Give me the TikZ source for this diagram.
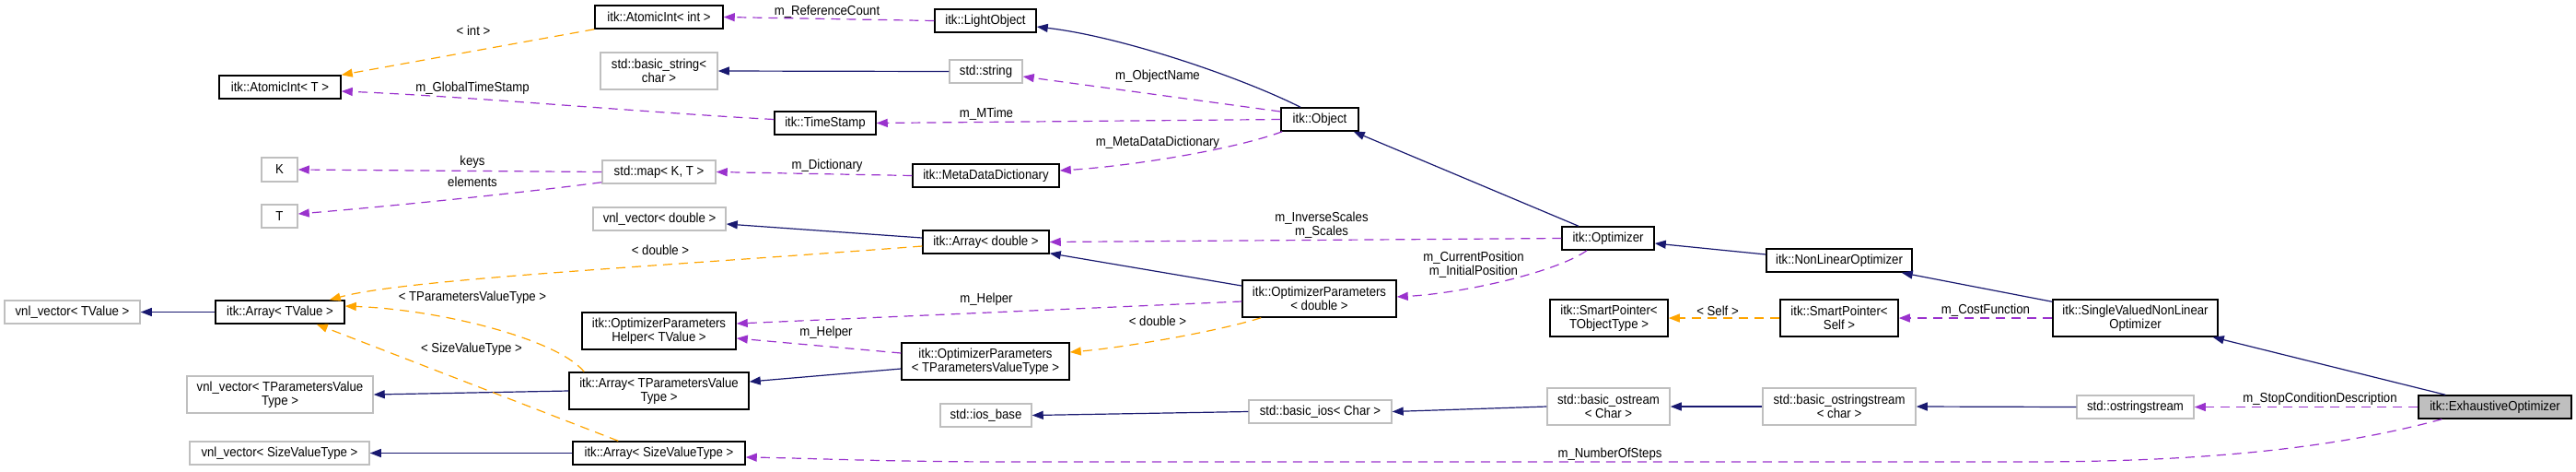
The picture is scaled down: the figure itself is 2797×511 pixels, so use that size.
\documentclass[tikz,border=0pt]{standalone}
\usepackage{fontspec}
\setmainfont{Liberation Sans}[FakeStretch=0.91]
\usetikzlibrary{arrows.meta,calc}
\definecolor{cInh}{HTML}{191970}
\definecolor{cUse}{HTML}{9A32CD}
\definecolor{cTpl}{HTML}{FFA500}
\definecolor{cGry}{HTML}{BFBFBF}
\begin{document}
\begin{tikzpicture}[x=0.5pt,y=-0.5pt,
 font=\fontsize{7.25pt}{7.5pt}\selectfont,
 box/.style={draw=black,line width=0.75pt,inner sep=0pt,align=center,fill=white},
 gbox/.style={box,draw=cGry},
 one/.style={minimum height=12.5pt},
 two/.style={minimum height=20pt},
 lbl/.style={inner sep=0pt,align=center},
 tipA/.style={-{Triangle[length=6pt,width=4.5pt]}},
 inhE/.style={draw=cInh,line width=0.6pt,tipA},
 useE/.style={draw=cUse,line width=0.6pt,dash pattern=on 5pt off 3.5pt,tipA},
 tplE/.style={draw=cTpl,line width=0.6pt,dash pattern=on 5pt off 3.5pt,tipA}]
\useasboundingbox (0,0) rectangle (2797,511);
% nodes
\node[gbox,one,minimum width=73.5pt] (vT) at (78.5,338.5) {vnl\_vector< TValue >};
\node[box,one,minimum width=66pt] (aiT) at (304,94.5) {itk::AtomicInt< T >};
\node[gbox,minimum width=19.5pt,minimum height=13pt] (K) at (303.5,184) {K};
\node[gbox,one,minimum width=19.5pt] (T) at (303.5,234.5) {T};
\node[box,one,minimum width=70pt] (arT) at (304,338.5) {itk::Array< TValue >};
\node[gbox,two,minimum width=101pt] (vTP) at (304,428) {vnl\_vector< TParametersValue\\Type >};
\node[gbox,one,minimum width=97.5pt] (vSV) at (303.5,491.5) {vnl\_vector< SizeValueType >};
\node[box,one,minimum width=69.5pt] (aiI) at (715.5,18.5) {itk::AtomicInt< int >};
\node[gbox,two,minimum width=63.5pt] (bstr) at (715.5,77) {std::basic\_string<\\char >};
\node[gbox,one,minimum width=61.5pt] (map) at (715.5,186.5) {std::map< K, T >};
\node[gbox,one,minimum width=72pt] (vD) at (716,237.5) {vnl\_vector< double >};
\node[box,two,minimum width=83.5pt] (help) at (715.5,359) {itk::OptimizerParameters\\Helper< TValue >};
\node[box,two,minimum width=97.5pt] (arTP) at (715.5,424) {itk::Array< TParametersValue\\Type >};
\node[box,one,minimum width=93.5pt] (arSV) at (715.5,491.5) {itk::Array< SizeValueType >};
\node[box,one,minimum width=55pt] (lo) at (1070,22.5) {itk::LightObject};
\node[gbox,one,minimum width=39.5pt] (str) at (1070.5,77.5) {std::string};
\node[box,one,minimum width=55pt] (ts) at (896,133.5) {itk::TimeStamp};
\node[box,one,minimum width=79.5pt] (mdd) at (1070.5,190.5) {itk::MetaDataDictionary};
\node[box,one,minimum width=68.5pt] (arD) at (1070.5,262.5) {itk::Array< double >};
\node[box,two,minimum width=91pt] (opTP) at (1070,392) {itk::OptimizerParameters\\< TParametersValueType >};
\node[gbox,one,minimum width=49.5pt] (iosb) at (1070.5,450.5) {std::ios\_base};
\node[box,one,minimum width=42pt] (obj) at (1433,129.5) {itk::Object};
\node[box,two,minimum width=83.5pt] (opD) at (1432.5,324) {itk::OptimizerParameters\\< double >};
\node[gbox,one,minimum width=77.5pt] (bios) at (1433.5,446.5) {std::basic\_ios< Char >};
\node[box,one,minimum width=50pt] (opt) at (1746,258.5) {itk::Optimizer};
\node[box,two,minimum width=64pt] (spT) at (1747,345) {itk::SmartPointer<\\TObjectType >};
\node[gbox,two,minimum width=66.5pt] (bos) at (1746.5,441) {std::basic\_ostream\\< Char >};
\node[box,one,minimum width=79pt] (nlo) at (1997,282.5) {itk::NonLinearOptimizer};
\node[box,two,minimum width=64pt] (spS) at (1997,345) {itk::SmartPointer<\\Self >};
\node[gbox,two,minimum width=83pt] (boss) at (1997,441) {std::basic\_ostringstream\\< char >};
\node[box,two,minimum width=89.5pt] (svo) at (2318.5,345) {itk::SingleValuedNonLinear\\Optimizer};
\node[gbox,one,minimum width=63.5pt] (oss) at (2318.5,441.5) {std::ostringstream};
\node[box,one,minimum width=83pt,fill=cGry] (exo) at (2709,441.5) {itk::ExhaustiveOptimizer};
% inheritance
\draw[inhE] ($(obj.north)+(-21,0)$) .. controls (1350,85) and (1220,40) .. ($(lo.east)+(0,6.5)$);
\draw[inhE] (str.west) -- (bstr.east);
\draw[inhE] ($(opt.north)+(-32,0)$) -- ($(obj.south east)+(-6,0)$);
\draw[inhE] ($(arD.west)+(0,-4.5)$) -- ($(vD.east)+(0,5.5)$);
\draw[inhE] ($(opD.west)+(0,-14)$) -- ($(arD.south east)+(0,-1)$);
\draw[inhE] ($(opTP.west)+(0,8)$) -- ($(arTP.east)+(0,-10)$);
\draw[inhE] ($(nlo.west)+(0,-6.5)$) -- ($(opt.east)+(0,5.5)$);
\draw[inhE] ($(svo.north west)+(0,3)$) -- ($(nlo.south east)+(-12,0)$);
\draw[inhE] ($(exo.north west)+(30,0)$) -- ($(svo.south east)+(-6,0)$);
\draw[inhE] (arT.west) -- (vT.east);
\draw[inhE] (arTP.west) -- (vTP.east);
\draw[inhE] (arSV.west) -- (vSV.east);
\draw[inhE] (bios.west) -- (iosb.east);
\draw[inhE] (bos.west) -- (bios.east);
\draw[inhE] (boss.west) -- (bos.east);
\draw[inhE] (oss.west) -- (boss.east);
% usage
\draw[useE] (lo.west) -- (aiI.east);
\draw[useE] ($(ts.west)+(0,-4)$) .. controls (700,122) and (500,104) .. ($(aiT.east)+(0,4.5)$);
\draw[useE] ($(obj.west)+(0,-8.5)$) -- ($(str.east)+(0,5.5)$);
\draw[useE] (obj.west) -- (ts.east);
\draw[useE] ($(obj.south west)+(2,0)$) .. controls (1340,162) and (1230,180) .. ($(mdd.east)+(0,-5.5)$);
\draw[useE] (mdd.west) -- (map.east);
\draw[useE] (map.west) -- (K.east);
\draw[useE] ($(map.south west)+(0,-2)$) .. controls (560,210) and (420,224) .. ($(T.east)+(0,-2.5)$);
\draw[useE] (opt.west) -- (arD.east);
\draw[useE] ($(opt.south)+(-23,0)$) .. controls (1690,295) and (1590,318) .. ($(opD.east)+(0,-2)$);
\draw[useE] ($(opD.west)+(0,3)$) -- ($(help.east)+(0,-8)$);
\draw[useE] ($(opTP.west)+(0,-9)$) -- ($(help.east)+(0,8)$);
\draw[useE] (svo.west) -- (spS.east);
\draw[useE] (exo.west) -- (oss.east);
\draw[useE] ($(exo.south west)+(26,0)$) .. controls (2540,485) and (2400,501) .. (2200,501) -- (1100,501) .. controls (960,501) and (880,497) .. ($(arSV.east)+(0,4.5)$);
% template instances
\draw[tplE] (aiI.south west) -- (aiT.north east);
\draw[tplE] ($(arD.west)+(0,4.5)$) .. controls (700,290) and (440,303) .. ($(arT.north east)+(-17,0)$);
\draw[tplE] ($(arTP.north west)+(17,0)$) .. controls (605,368) and (480,336) .. ($(arT.east)+(0,-6.5)$);
\draw[tplE] ($(arSV.north west)+(50,0)$) -- ($(arT.south east)+(-31,0)$);
\draw[tplE] ($(opD.south west)+(21,0)$) .. controls (1320,360) and (1220,377) .. ($(opTP.east)+(0,-10)$);
\draw[tplE] (spS.west) -- (spT.east);
% labels
\node[lbl] (l1) at (514,33) {< int >};
\node[lbl] (l2) at (513,96) {m\_GlobalTimeStamp};
\node[lbl] (l3) at (513,176) {keys};
\node[lbl] (l4) at (513,197) {elements};
\node[lbl] (l5) at (513,323) {< TParametersValueType >};
\node[lbl] (l6) at (512,379) {< SizeValueType >};
\node[lbl] (l7) at (717,271) {< double >};
\node[lbl] (l8) at (898,13) {m\_ReferenceCount};
\node[lbl] (l9) at (898,180) {m\_Dictionary};
\node[lbl] (l10) at (1071,325) {m\_Helper};
\node[lbl] (l11) at (897,361) {m\_Helper};
\node[lbl] (l12) at (1071,124) {m\_MTime};
\node[lbl] (l13) at (1257,83) {m\_ObjectName};
\node[lbl] (l14) at (1257,155) {m\_MetaDataDictionary};
\node[lbl] (l15) at (1435,244) {m\_InverseScales\\m\_Scales};
\node[lbl] (l16) at (1600,287) {m\_CurrentPosition\\m\_InitialPosition};
\node[lbl] (l17) at (1257,348) {< double >};
\node[lbl] (l18) at (1865,337) {< Self >};
\node[lbl] (l19) at (2156,337) {m\_CostFunction};
\node[lbl] (l20) at (1748,493) {m\_NumberOfSteps};
\node[lbl] (l21) at (2519,433) {m\_StopConditionDescription};
\end{tikzpicture}
\end{document}
